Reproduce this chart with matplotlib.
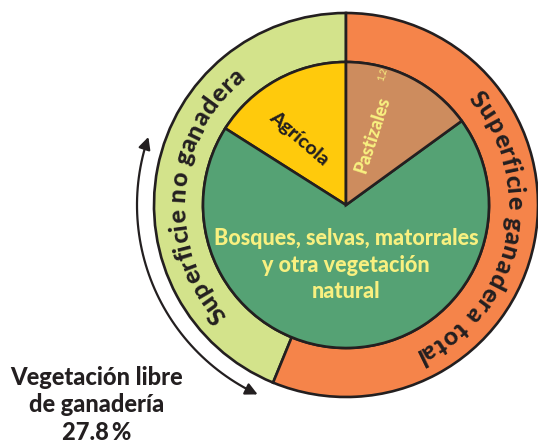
import numpy as np
import matplotlib
matplotlib.use('Agg')
import matplotlib.pyplot as plt
from matplotlib.patches import FancyArrowPatch
from matplotlib.path import Path
from matplotlib.font_manager import FontProperties


# Inner pie: land use (percent of the territory)
INNER_LABELS = ['Agrícola',
                'Bosques, selvas, matorrales\ny otra vegetación\nnatural',
                'Pastizales']
INNER_VALUES = [16.0, 69.0, 15.0]
INNER_COLORS = ['#ffca0c', '#55a274', '#cd8c5e']

# Outer ring: livestock vs. non livestock surface
OUTER_LABELS = ['Superficie no ganadera', 'Superficie ganadera total']
OUTER_VALUES = [43.8, 56.2]
OUTER_COLORS = ['#d3e38b', '#f5844a']

LIBRE_LABEL = 'Vegetación libre\nde ganadería'
LIBRE_PCT = 27.8

EDGE = '#231f20'
PALE = '#f8f080'
W, H = 538, 445
CX, CY = 346, 240
R_OUT, R_IN = 192, 143
WEIGHT = 'black'

plt.rcParams['font.family'] = ['Lato', 'DejaVu Sans']
plt.rcParams['font.weight'] = WEIGHT

fig = plt.figure(figsize=(W / 100, H / 100), dpi=100)
ax = fig.add_axes([0, 0, 1, 1])

wp = dict(edgecolor=EDGE, linewidth=1.9)
ax.pie(OUTER_VALUES, radius=R_OUT, center=(CX, CY), startangle=90,
       colors=OUTER_COLORS, wedgeprops=dict(width=R_OUT - R_IN, **wp))
ax.pie(INNER_VALUES, radius=R_IN, center=(CX, CY), startangle=90,
       colors=INNER_COLORS, wedgeprops=wp)

ax.set_xlim(0, W)
ax.set_ylim(0, H)
ax.set_aspect('auto')
ax.axis('off')

renderer = fig.canvas.get_renderer()


def curved_text(s, theta_c, r, size, track=1.0, color=EDGE):
    """Write s clockwise along a circle, letters' tops outward."""
    fp = FontProperties(family='Lato', weight=WEIGHT, size=size)
    ww = lambda t: renderer.get_text_width_height_descent(t, fp, ismath=False)[0]
    widths = []
    for ch in s:
        if ch == ' ':
            widths.append(ww('a a') - ww('aa'))
        else:
            widths.append(ww(ch))
    widths = [w * track for w in widths]
    span = np.degrees(sum(widths) / r)
    theta = theta_c + span / 2
    for ch, w in zip(s, widths):
        a = theta - np.degrees(w / 2 / r)
        x = CX + r * np.cos(np.radians(a))
        y = CY + r * np.sin(np.radians(a))
        ax.text(x, y, ch, fontproperties=fp, color=color, ha='center',
                va='baseline', rotation=a - 90, rotation_mode='anchor')
        theta -= np.degrees(w / r)


curved_text(OUTER_LABELS[0], 175.5, 161, 18, track=1.04)
curved_text(OUTER_LABELS[1], -12, 161, 18, track=1.07)

# inner labels
ax.text(346, 180, INNER_LABELS[1], color=PALE, fontsize=15.5,
        ha='center', va='center', linespacing=1.3)
ax.text(299, 307, INNER_LABELS[0], color=EDGE, fontsize=14,
        ha='center', va='center', rotation=-41, rotation_mode='anchor')
ax.text(373, 310, INNER_LABELS[2], color=PALE, fontsize=13,
        ha='center', va='center', rotation=72, rotation_mode='anchor')
ax.text(383, 371, '1,2', color=PALE, fontsize=7, fontweight='normal',
        ha='center', va='center', rotation=72, rotation_mode='anchor')

# arrow around the part of the ring free of livestock
t = np.radians(np.linspace(161, 245, 60))
verts = np.column_stack([CX + 209 * np.cos(t), CY + 209 * np.sin(t)])
arc = FancyArrowPatch(path=Path(verts), arrowstyle='<|-|>',
                      mutation_scale=18, color=EDGE, linewidth=1.6)
ax.add_patch(arc)

ax.text(97, 40, LIBRE_LABEL + '\n' + f'{LIBRE_PCT}\u2009%', color=EDGE,
        fontsize=17, ha='center', va='center', linespacing=1.25)

fig.savefig('out.png', dpi=100)
